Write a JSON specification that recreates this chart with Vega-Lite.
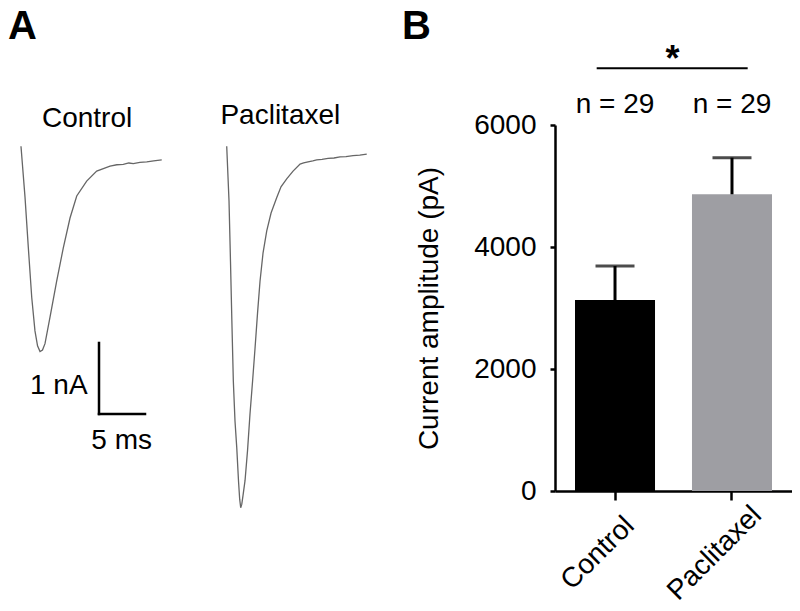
{
  "$schema": "https://vega.github.io/schema/vega-lite/v6.json",
  "background": "white",
  "padding": {"left": 0, "top": 6, "right": 0, "bottom": 0},
  "bounds": "flush",
  "spacing": 175,
  "config": {
    "view": {"stroke": null},
    "font": "Liberation Sans",
    "axis": {"grid": false, "labelFontSize": 28, "labelColor": "black", "tickWidth": 2.5, "tickColor": "black", "domainWidth": 2.5, "domainColor": "black", "titleFontSize": 28, "titleFontWeight": "normal", "titleColor": "black", "labelFlush": false, "labelOverlap": false},
    "axisX": {"labelAngle": -45, "labelAlign": "center", "labelBaseline": "middle", "labelOffset": -17, "tickSize": 9, "labelPadding": 53},
    "axisY": {"tickSize": 5, "labelPadding": 14, "titlePadding": 30, "format": "d"}
  },
  "datasets": {
    "traces": [
      {"trace": "Control", "t": 2.28, "I": 0.0},
      {"trace": "Control", "t": 2.72, "I": -0.72},
      {"trace": "Control", "t": 3.08, "I": -1.43},
      {"trace": "Control", "t": 3.45, "I": -2.13},
      {"trace": "Control", "t": 3.8, "I": -2.6},
      {"trace": "Control", "t": 4.08, "I": -2.81},
      {"trace": "Control", "t": 4.35, "I": -2.89},
      {"trace": "Control", "t": 4.62, "I": -2.87},
      {"trace": "Control", "t": 4.89, "I": -2.78},
      {"trace": "Control", "t": 5.43, "I": -2.41},
      {"trace": "Control", "t": 6.16, "I": -1.9},
      {"trace": "Control", "t": 6.88, "I": -1.43},
      {"trace": "Control", "t": 7.61, "I": -1.01},
      {"trace": "Control", "t": 8.34, "I": -0.7},
      {"trace": "Control", "t": 9.42, "I": -0.49},
      {"trace": "Control", "t": 10.51, "I": -0.35},
      {"trace": "Control", "t": 11.96, "I": -0.28},
      {"trace": "Control", "t": 12.7, "I": -0.26},
      {"trace": "Control", "t": 13.4, "I": -0.255},
      {"trace": "Control", "t": 14.0, "I": -0.235},
      {"trace": "Control", "t": 14.49, "I": -0.245},
      {"trace": "Control", "t": 15.2, "I": -0.225},
      {"trace": "Control", "t": 15.95, "I": -0.22},
      {"trace": "Control", "t": 16.7, "I": -0.205},
      {"trace": "Control", "t": 17.58, "I": -0.19},
      {"trace": "Paclitaxel", "t": 24.64, "I": 0.0},
      {"trace": "Paclitaxel", "t": 24.89, "I": -0.77},
      {"trace": "Paclitaxel", "t": 25.05, "I": -1.62},
      {"trace": "Paclitaxel", "t": 25.2, "I": -2.46},
      {"trace": "Paclitaxel", "t": 25.36, "I": -3.31},
      {"trace": "Paclitaxel", "t": 25.54, "I": -3.87},
      {"trace": "Paclitaxel", "t": 25.73, "I": -4.24},
      {"trace": "Paclitaxel", "t": 25.92, "I": -4.71},
      {"trace": "Paclitaxel", "t": 26.05, "I": -4.97},
      {"trace": "Paclitaxel", "t": 26.16, "I": -5.09},
      {"trace": "Paclitaxel", "t": 26.28, "I": -5.04},
      {"trace": "Paclitaxel", "t": 26.41, "I": -4.92},
      {"trace": "Paclitaxel", "t": 26.63, "I": -4.71},
      {"trace": "Paclitaxel", "t": 26.9, "I": -4.29},
      {"trace": "Paclitaxel", "t": 27.17, "I": -3.77},
      {"trace": "Paclitaxel", "t": 27.45, "I": -3.31},
      {"trace": "Paclitaxel", "t": 27.72, "I": -2.84},
      {"trace": "Paclitaxel", "t": 27.99, "I": -2.35},
      {"trace": "Paclitaxel", "t": 28.26, "I": -1.9},
      {"trace": "Paclitaxel", "t": 28.59, "I": -1.5},
      {"trace": "Paclitaxel", "t": 28.99, "I": -1.19},
      {"trace": "Paclitaxel", "t": 29.46, "I": -0.94},
      {"trace": "Paclitaxel", "t": 30.08, "I": -0.72},
      {"trace": "Paclitaxel", "t": 30.54, "I": -0.57},
      {"trace": "Paclitaxel", "t": 31.16, "I": -0.46},
      {"trace": "Paclitaxel", "t": 31.85, "I": -0.35},
      {"trace": "Paclitaxel", "t": 32.61, "I": -0.25},
      {"trace": "Paclitaxel", "t": 33.0, "I": -0.235},
      {"trace": "Paclitaxel", "t": 33.48, "I": -0.22},
      {"trace": "Paclitaxel", "t": 34.0, "I": -0.205},
      {"trace": "Paclitaxel", "t": 34.42, "I": -0.19},
      {"trace": "Paclitaxel", "t": 35.0, "I": -0.185},
      {"trace": "Paclitaxel", "t": 35.65, "I": -0.17},
      {"trace": "Paclitaxel", "t": 36.3, "I": -0.165},
      {"trace": "Paclitaxel", "t": 36.96, "I": -0.15},
      {"trace": "Paclitaxel", "t": 37.6, "I": -0.145},
      {"trace": "Paclitaxel", "t": 38.37, "I": -0.13},
      {"trace": "Paclitaxel", "t": 39.1, "I": -0.125},
      {"trace": "Paclitaxel", "t": 39.86, "I": -0.11}
    ],
    "scalebar": [
      {"t": 10.76, "I": -2.77, "t2": 10.76, "I2": -3.77},
      {"t": 10.76, "I": -3.77, "t2": 15.76, "I2": -3.77}
    ],
    "labelsA": [
      {"text": "Control", "t": 9.46, "I": 0.272},
      {"text": "Paclitaxel", "t": 30.47, "I": 0.318},
      {"text": "1 nA", "t": 6.39, "I": -3.493},
      {"text": "5 ms", "t": 13.22, "I": -4.268}
    ],
    "letterA": [{"text": "A", "t": 0.87, "I": 1.511}],
    "bars": [
      {"group": "Control", "mean": 3131, "upper": 3689, "nlabel": "n = 29"},
      {"group": "Paclitaxel", "mean": 4864, "upper": 5464, "nlabel": "n = 29"}
    ],
    "sig": [{"from": "Control", "to": "Paclitaxel", "label": "*"}],
    "letterB": [{"anchor": "Control", "text": "B"}]
  },
  "hconcat": [
    {
      "width": 380,
      "height": 369.2,
      "layer": [
        {
          "data": {"name": "traces"},
          "mark": {"type": "line", "color": "#666666", "strokeWidth": 1.3, "clip": false},
          "encoding": {
            "x": {"field": "t", "type": "quantitative", "scale": {"domain": [0, 41.3], "nice": false, "zero": false}, "axis": null},
            "y": {"field": "I", "type": "quantitative", "scale": {"domain": [-4.9, 0.3], "nice": false, "zero": false}, "axis": null},
            "detail": {"field": "trace", "type": "nominal"}
          }
        },
        {
          "data": {"name": "scalebar"},
          "mark": {"type": "rule", "color": "black", "strokeWidth": 2.5, "strokeCap": "square", "clip": false},
          "encoding": {
            "x": {"field": "t", "type": "quantitative", "axis": null},
            "x2": {"field": "t2"},
            "y": {"field": "I", "type": "quantitative", "axis": null},
            "y2": {"field": "I2"}
          }
        },
        {
          "data": {"name": "labelsA"},
          "mark": {"type": "text", "fontSize": 28, "color": "black", "align": "center", "baseline": "alphabetic", "clip": false},
          "encoding": {
            "x": {"field": "t", "type": "quantitative", "axis": null},
            "y": {"field": "I", "type": "quantitative", "axis": null},
            "text": {"field": "text"}
          }
        },
        {
          "data": {"name": "letterA"},
          "mark": {"type": "text", "fontSize": 40, "fontWeight": "bold", "color": "black", "align": "left", "baseline": "alphabetic", "clip": false},
          "encoding": {
            "x": {"field": "t", "type": "quantitative", "axis": null},
            "y": {"field": "I", "type": "quantitative", "axis": null},
            "text": {"field": "text"}
          }
        }
      ]
    },
    {
      "width": 237,
      "height": 366,
      "layer": [
        {
          "data": {"name": "bars"},
          "mark": {"type": "bar"},
          "encoding": {
            "x": {
              "field": "group", "type": "nominal", "title": null,
              "scale": {"domain": ["Control", "Paclitaxel"], "paddingInner": 0.316, "paddingOuter": 0.171}
            },
            "y": {
              "field": "mean", "type": "quantitative", "title": "Current amplitude (pA)",
              "scale": {"domain": [0, 6000], "nice": false},
              "axis": {"values": [0, 2000, 4000, 6000]}
            },
            "color": {"field": "group", "type": "nominal", "scale": {"domain": ["Control", "Paclitaxel"], "range": ["#000000", "#9e9ea3"]}, "legend": null}
          }
        },
        {
          "data": {"name": "bars"},
          "mark": {"type": "rule", "color": "black", "strokeWidth": 3},
          "encoding": {
            "x": {"field": "group", "type": "nominal", "title": null},
            "y": {"field": "mean", "type": "quantitative", "title": "Current amplitude (pA)"},
            "y2": {"field": "upper"}
          }
        },
        {
          "data": {"name": "bars"},
          "mark": {"type": "tick", "color": "black", "size": 39, "thickness": 3},
          "encoding": {
            "x": {"field": "group", "type": "nominal", "title": null},
            "y": {"field": "upper", "type": "quantitative", "title": "Current amplitude (pA)"}
          }
        },
        {
          "data": {"name": "bars"},
          "mark": {"type": "text", "fontSize": 28, "color": "black", "align": "center", "baseline": "alphabetic", "clip": false},
          "encoding": {
            "x": {"field": "group", "type": "nominal", "title": null},
            "y": {"datum": 6192, "type": "quantitative", "title": "Current amplitude (pA)"},
            "text": {"field": "nlabel"}
          }
        },
        {
          "data": {"name": "sig"},
          "mark": {"type": "rule", "color": "black", "strokeWidth": 2, "clip": false},
          "encoding": {
            "x": {"field": "from", "type": "nominal", "bandPosition": 0.271, "title": null},
            "x2": {"field": "to", "bandPosition": 0.696},
            "y": {"datum": 6929, "type": "quantitative", "title": "Current amplitude (pA)"}
          }
        },
        {
          "data": {"name": "sig"},
          "mark": {"type": "text", "fontSize": 36, "fontWeight": "bold", "color": "black", "align": "center", "baseline": "alphabetic", "clip": false},
          "encoding": {
            "x": {"field": "from", "type": "nominal", "bandPosition": 1.219, "title": null},
            "y": {"datum": 6889, "type": "quantitative", "title": "Current amplitude (pA)"},
            "text": {"field": "label"}
          }
        },
        {
          "data": {"name": "letterB"},
          "mark": {"type": "text", "fontSize": 40, "fontWeight": "bold", "color": "black", "align": "left", "baseline": "alphabetic", "clip": false},
          "encoding": {
            "x": {"field": "anchor", "type": "nominal", "bandPosition": -2.1625, "title": null},
            "y": {"datum": 7410, "type": "quantitative", "title": "Current amplitude (pA)"},
            "text": {"field": "text"}
          }
        }
      ]
    }
  ]
}
